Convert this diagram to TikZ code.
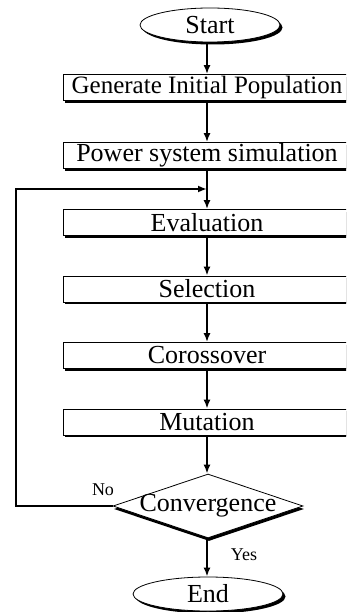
\documentclass[tikz,border=0pt]{standalone}
\usepackage{fontspec}
\setmainfont{Liberation Serif}
\usetikzlibrary{shapes.geometric,shadows,arrows.meta}
\tikzset{
  x=1pt,y=-1pt,
  boxstyle/.style={draw,fill=white,line width=0.8pt,minimum width=288pt,minimum height=26pt,inner sep=0pt,
    font=\fontsize{26}{27}\selectfont,
    drop shadow={shadow xshift=2pt,shadow yshift=-2.2pt,fill=black,opacity=1}},
  ovalstyle/.style={ellipse,draw,fill=white,line width=0.8pt,inner sep=0pt,
    font=\fontsize{26}{27}\selectfont,
    drop shadow={shadow xshift=2.5pt,shadow yshift=-2.5pt,fill=black,opacity=1}},
  decstyle/.style={diamond,draw,fill=white,line width=0.8pt,inner sep=0pt,aspect=2.9,
    font=\fontsize{26}{27}\selectfont,
    drop shadow={shadow xshift=1pt,shadow yshift=-3pt,fill=black,opacity=1}},
  conn/.style={line width=2pt,-{Latex[length=9pt,width=7pt]}},
  lbl/.style={font=\fontsize{18}{19}\selectfont,inner sep=0pt}
}
\begin{document}
\begin{tikzpicture}
\path[use as bounding box,clip] (0,0) rectangle (346,612);
\node[ovalstyle,minimum width=140pt,minimum height=34pt] (start) at (210,25) {Start};
\node[boxstyle,font=\fontsize{25}{26}\selectfont] (gen) at (207,87.5) {Generate Initial Population};
\node[boxstyle] (pow) at (207,155.5) {Power system simulation};
\node[boxstyle] (eval) at (207,222.5) {Evaluation};
\node[boxstyle] (sel) at (207,289) {Selection};
\node[boxstyle] (cross) at (207,355.5) {Corossover};
\node[boxstyle] (mut) at (207,422) {Mutation};
\node[decstyle,minimum width=190pt,minimum height=64pt] (conv) at (208,506) {\makebox[60pt][c]{Convergence}};
\node[ovalstyle,minimum width=150pt,minimum height=34pt] (end) at (208,594) {End};
\coordinate (join) at (207,189);
\coordinate (lc) at (16,506);
\node[lbl] (no) at (103,490) {No};
\node[lbl] (yes) at (244,555) {Yes};
\draw[conn] (start.south -| 207,0) -- (gen.north);
\draw[conn] (gen) -- (pow);
\draw[conn] (pow) -- (eval);
\draw[conn] (eval) -- (sel);
\draw[conn] (sel) -- (cross);
\draw[conn] (cross) -- (mut);
\draw[conn] (mut.south) -- (mut.south |- conv.north);
\draw[conn] (conv.south -| 207,0) -- (end.north -| 207,0);
\draw[conn] (conv.west) -- (lc) |- (join);
\end{tikzpicture}
\end{document}
